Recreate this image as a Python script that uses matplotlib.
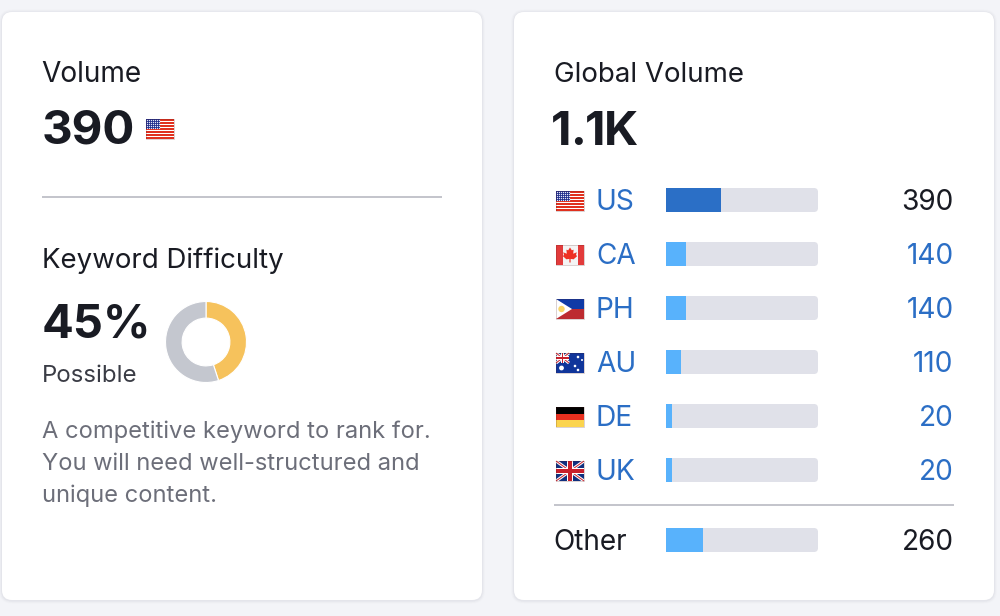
import matplotlib
matplotlib.use("Agg")
import matplotlib.pyplot as plt
from matplotlib.patches import FancyBboxPatch, Rectangle, Polygon, Circle

plt.rcParams["font.family"] = ["Inter", "DejaVu Sans"]

COUNTRIES = ["US", "CA", "PH", "AU", "DE", "UK"]
VOLUMES = [390, 140, 140, 110, 20, 20]
OTHER_LABEL = "Other"
OTHER_VOLUME = 260
DIFFICULTY = 45
DESCRIPTION = ["A competitive keyword to rank for.",
               "You will need well-structured and",
               "unique content."]

DARK = "#191b23"
BLUE = "#2b6ec5"
GREY = "#6c6e79"
W, H = 1000, 616


def px(size):
    # css pixels to points at dpi 100
    return size * 0.72


def rect(x, y, w, h, color, zorder=3, clip=None):
    p = Rectangle((x, y), w, h, facecolor=color, edgecolor="none", zorder=zorder)
    ax.add_patch(p)
    if clip is not None:
        p.set_clip_path(clip)
    return p


def union_jack(x, y, w, h):
    clip = rect(x, y, w, h, "#10307f")
    for a, b in [((x, y), (x + w, y + h)), ((x, y + h), (x + w, y))]:
        ax.plot([a[0], b[0]], [a[1], b[1]], color="white", lw=2.2, zorder=4,
                solid_capstyle="butt", clip_path=clip)
        ax.plot([a[0], b[0]], [a[1], b[1]], color="#c8202c", lw=0.7, zorder=5,
                solid_capstyle="butt", clip_path=clip)
    t = h * 0.34
    rect(x, y + h / 2 - t / 2, w, t, "white", 6)
    rect(x + w / 2 - t / 2, y, t, h, "white", 6)
    t = h * 0.18
    rect(x, y + h / 2 - t / 2, w, t, "#c8202c", 7)
    rect(x + w / 2 - t / 2, y, t, h, "#c8202c", 7)


def flag(code, x, y):
    w, h = 28, 20
    if code == "US":
        rect(x, y, w, h, "white")
        for i in range(0, 7):
            rect(x, y + i * 3.05, w, 2.0, "#e0301e", 4)
        rect(x, y, 14, 10, "#1c2a8c", 5)
        for i in range(7):
            for j in range(5):
                ax.plot(x + 1 + i * 2, y + 1 + j * 2, "s", color="#dfe3f5", ms=0.85, mew=0, zorder=6)
    elif code == "CA":
        rect(x, y, w, h, "#f4f4f4")
        rect(x, y, 6.5, h, "#e23b3b", 4)
        rect(x + 21.5, y, 6.5, h, "#e23b3b", 4)
        cx, cy = x + 14, y + 9.5
        leaf = [(0, -7), (1.8, -4.2), (3.6, -4.8), (3.2, -0.8), (6.8, -2.2), (6, 0.5), (7.2, 1.6),
                (3.6, 4.8), (0.6, 4.4), (0.6, 8), (-0.6, 8), (-0.6, 4.4), (-3.6, 4.8), (-7.2, 1.6),
                (-6, 0.5), (-6.8, -2.2), (-3.2, -0.8), (-3.6, -4.8), (-1.8, -4.2)]
        ax.add_patch(Polygon([(cx + a, cy + b) for a, b in leaf], facecolor="#ee3124",
                             edgecolor="none", zorder=5))
    elif code == "PH":
        rect(x, y, w, h / 2, "#0f3aa6")
        rect(x, y + h / 2, w, h / 2, "#bd2b30")
        ax.add_patch(Polygon([(x, y), (x + 16, y + h / 2), (x, y + h)], facecolor="white",
                             edgecolor="none", zorder=5))
        ax.add_patch(Circle((x + 5.5, y + h / 2), 3.2, facecolor="#f8d568", edgecolor="none", zorder=6))
    elif code == "AU":
        rect(x, y, w, h, "#10359a")
        union_jack(x, y, 13, 10)
        for sx, sy, r in [(5.5, 15, 2.4), (19, 13, 1.3), (22, 4, 1.3), (26, 7, 1), (22, 17, 1.3)]:
            ax.add_patch(Circle((x + sx, y + sy), r, facecolor="white", edgecolor="none", zorder=8))
    elif code == "DE":
        rect(x, y, w, h / 3, "#000000")
        rect(x, y + h / 3, w, h / 3, "#e8301f")
        rect(x, y + 2 * h / 3, w, h / 3, "#fbd44e")
    elif code == "UK":
        union_jack(x, y, w, h)
    # thin darker edge like the emoji flags have
    ax.add_patch(Rectangle((x + 0.25, y + 0.25), w - 0.5, h - 0.5, facecolor="none",
                           edgecolor=(0.3, 0.1, 0.1, 0.28), linewidth=0.5, zorder=9))


fig = plt.figure(figsize=(W / 100, H / 100), dpi=100, facecolor="#f3f4f8")
ax = fig.add_axes([0, 0, 1, 1])
ax.set_xlim(0, W)
ax.set_ylim(H, 0)
ax.axis("off")

# cards with a soft shadow
for x0 in (2, 514):
    for grow, alpha in [(3, 0.012), (2, 0.02), (1, 0.03)]:
        ax.add_patch(FancyBboxPatch((x0 - grow, 12 - grow + 0.5), 480 + 2 * grow, 588 + 2 * grow,
                                    boxstyle=f"round,pad=0,rounding_size={10 + grow}",
                                    facecolor=(0.1, 0.12, 0.25, alpha), edgecolor="none", zorder=1))
    ax.add_patch(FancyBboxPatch((x0, 12), 480, 588, boxstyle="round,pad=0,rounding_size=10",
                                facecolor="white", edgecolor="none", zorder=2))

# left card
ax.text(41.5, 82.5, "Volume", fontsize=px(28), color=DARK, va="baseline")
ax.text(41.5, 144, str(VOLUMES[0]), fontsize=px(47.5), fontweight="bold", color=DARK, va="baseline")
flag("US", 146, 119)
ax.plot([42, 442], [197, 197], color="#c4c5cc", lw=1.44, solid_capstyle="butt", zorder=3)
ax.text(42, 268, "Keyword Difficulty", fontsize=px(27.7), color=DARK, va="baseline")
ax.text(41.5, 338, f"{DIFFICULTY}%", fontsize=px(47), fontweight="bold", color=DARK, va="baseline")
ax.text(42, 382, "Possible", fontsize=px(24), color="#3a3c45", va="baseline")
for i, line in enumerate(DESCRIPTION):
    ax.text(42, 438 + i * 32, line, fontsize=px(23.7), color=GREY, va="baseline")

# donut
pie_ax = fig.add_axes([165.5 / W, 1 - 382.5 / H, 81 / W, 81 / H])
pie_ax.pie([DIFFICULTY, 100 - DIFFICULTY], colors=["#f6c25c", "#c4c7cf"], startangle=90,
           counterclock=False, radius=1,
           wedgeprops=dict(width=0.41, edgecolor="white", linewidth=0.8))
pie_ax.set_xlim(-1.0, 1.0)
pie_ax.set_ylim(-1.0, 1.0)

# right card
total = sum(VOLUMES) + OTHER_VOLUME
ax.text(554, 82, "Global Volume", fontsize=px(27.7), color=DARK, va="baseline")
# the reference sets 1.1K with much tighter kerning, so place it glyph by glyph
for ch, x in zip("1.1K", [551, 570, 585, 604]):
    ax.text(x, 145, ch, fontsize=px(47.5), fontweight="bold", color=DARK, va="baseline")

row_y = [200, 254, 308, 362, 416, 470]
flag_y = [191, 245, 299, 353, 407, 461]
for i, code in enumerate(COUNTRIES):
    flag(code, 556, flag_y[i])
    ax.text(596, row_y[i] + 10.5, code, fontsize=px(28), color=BLUE, va="baseline")
    ax.text(953.5, row_y[i] + 10.5, str(VOLUMES[i]), fontsize=px(28), ha="right", va="baseline",
            color=DARK if code == "US" else BLUE)
ax.plot([554, 954], [505, 505], color="#c4c5cc", lw=1.44, solid_capstyle="butt", zorder=3)
ax.text(553.5, 550.5, OTHER_LABEL, fontsize=px(28), color=DARK, va="baseline")
ax.text(953.5, 550.5, str(OTHER_VOLUME), fontsize=px(28), color=DARK, ha="right", va="baseline")

# bar tracks
all_y = row_y + [540]
for y in all_y:
    ax.add_patch(FancyBboxPatch((666, y - 12), 152, 24, boxstyle="round,pad=0,rounding_size=4",
                                facecolor="#e0e1e9", edgecolor="none", zorder=3))

# bars, x axis is volume over the track width; small values get a minimum width
bar_ax = fig.add_axes([666 / W, 1 - 560 / H, 152 / W, 380 / H])
bar_ax.set_xlim(0, total)
bar_ax.set_ylim(560, 180)
bar_ax.axis("off")
min_bar = total * 6 / 152
all_vol = VOLUMES + [OTHER_VOLUME]
colors = ["#2b6fc6"] + ["#58b2fc"] * 6
bar_ax.barh(all_y, [max(v, min_bar) for v in all_vol], height=24, color=colors)

fig.savefig("out.png", dpi=100, facecolor=fig.get_facecolor())
